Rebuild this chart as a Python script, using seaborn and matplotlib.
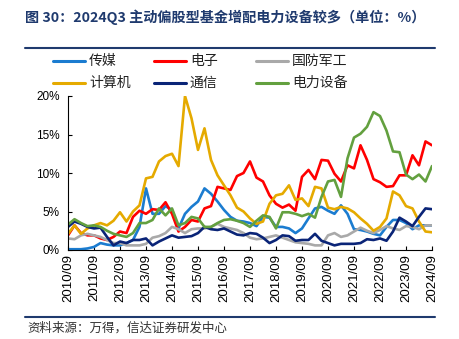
import numpy as np
import pandas as pd
import matplotlib
matplotlib.use("Agg")
import matplotlib.pyplot as plt
from matplotlib.lines import Line2D
import seaborn as sns

# ---- data (quarterly, 2010Q3 .. 2024Q3), % of holdings ----
quarters = [f"{y}/{m:02d}" for y in range(2010, 2025) for m in (3, 6, 9, 12)]
quarters = quarters[2:2 + 57]

media = [0.1, 0.1, 0.1, 0.2, 0.4, 0.9, 0.7, 0.6, 0.6, 0.9, 1.3, 3.0, 8.0, 4.7, 4.7, 5.7,
         5.2, 2.8, 4.7, 5.6, 6.3, 8.0, 7.3, 6.3, 5.2, 4.3, 3.8, 3.7, 3.5, 3.1, 4.3, 4.2,
         3.0, 3.0, 2.8, 2.2, 2.8, 4.1, 5.4, 5.6, 5.1, 4.7, 5.8, 4.7, 2.7, 2.6, 2.4, 2.1,
         1.9, 3.0, 3.9, 3.9, 3.5, 2.7, 3.2, 3.2, 3.2]
electronics = [1.9, 3.2, 2.2, 1.9, 1.9, 1.5, 1.3, 1.7, 2.4, 2.2, 4.3, 5.1, 4.7, 5.3, 5.2, 6.2,
               4.7, 2.4, 3.0, 3.9, 3.7, 5.4, 5.7, 8.2, 8.0, 7.8, 9.6, 10.0, 11.5, 9.4, 8.9, 7.1,
               6.0, 5.5, 5.9, 5.1, 9.5, 10.4, 9.2, 11.7, 11.6, 9.9, 8.9, 11.0, 10.6, 13.6, 11.7, 9.2,
               8.8, 8.2, 8.3, 9.7, 9.7, 12.3, 11.0, 14.1, 13.6]
defense = [1.5, 1.4, 1.9, 2.1, 1.9, 1.7, 1.3, 0.9, 0.9, 0.6, 0.6, 0.6, 0.8, 1.6, 1.8, 2.2,
           3.0, 2.7, 2.2, 2.7, 2.8, 2.8, 3.0, 3.4, 3.0, 2.8, 2.6, 2.2, 1.6, 1.4, 1.5, 1.7,
           1.9, 1.6, 1.3, 1.0, 0.9, 0.8, 0.6, 0.6, 1.9, 2.2, 1.7, 1.9, 2.4, 2.9, 2.5, 2.2,
           2.6, 3.1, 2.8, 2.6, 3.1, 3.0, 2.7, 3.2, 3.2]
computer = [2.1, 3.2, 2.1, 2.8, 3.2, 3.5, 3.2, 3.8, 4.9, 3.7, 5.0, 5.8, 9.3, 9.5, 11.5, 12.2,
            12.5, 10.9, 20.0, 17.1, 13.0, 15.8, 11.7, 9.7, 8.4, 7.1, 5.5, 5.0, 4.1, 3.4, 3.7, 6.0,
            7.1, 7.3, 8.4, 6.5, 6.7, 5.7, 8.2, 8.0, 5.5, 5.3, 5.6, 5.4, 4.9, 4.1, 3.4, 2.5,
            3.0, 4.1, 7.6, 7.1, 5.7, 5.4, 3.7, 2.4, 2.3]
telecom = [3.0, 3.7, 3.4, 3.0, 2.8, 2.9, 1.7, 0.6, 1.1, 0.9, 1.3, 1.3, 1.5, 0.6, 1.1, 1.5,
           1.9, 1.6, 1.7, 1.8, 2.2, 3.0, 2.7, 2.6, 2.8, 2.4, 2.0, 1.9, 2.2, 2.1, 1.6, 0.9,
           1.3, 1.9, 1.8, 1.2, 1.3, 1.3, 2.1, 1.2, 0.9, 0.6, 0.8, 0.8, 0.8, 0.9, 1.4, 1.3,
           1.5, 1.2, 2.4, 4.2, 3.7, 3.1, 4.3, 5.4, 5.3]
power_eq = [3.3, 4.0, 3.5, 3.1, 3.2, 3.0, 2.5, 2.1, 1.9, 1.7, 2.2, 3.5, 3.5, 3.9, 5.4, 4.5,
            5.4, 3.2, 3.5, 4.3, 4.1, 3.0, 3.0, 3.5, 3.9, 4.0, 3.8, 3.5, 3.0, 3.8, 4.5, 4.3,
            2.8, 4.9, 4.9, 4.7, 4.4, 4.7, 4.2, 6.9, 8.9, 9.1, 6.9, 11.9, 14.6, 15.1, 16.0, 17.9,
            17.4, 15.5, 12.8, 12.7, 9.8, 9.2, 9.8, 8.9, 10.9]

series_names = ["传媒", "电子", "国防军工", "计算机", "通信", "电力设备"]
series_vals = [media, electronics, defense, computer, telecom, power_eq]
colors = ["#1B7CD0", "#FF0000", "#A9A9A9", "#E5AA00", "#0A2477", "#63A03F"]
tick_years = [f"{y}/09" for y in range(2010, 2025)]

rows = []
for name, vals in zip(series_names, series_vals):
    for i, v in enumerate(vals):
        rows.append({"idx": i, "quarter": quarters[i], "value": v, "series": name})
df = pd.DataFrame(rows)

# ---- style ----
sns.set_style("ticks")
plt.rcParams["font.family"] = ["Liberation Sans", "Noto Sans CJK SC", "DejaVu Sans"]

W, H = 459, 339
fig = plt.figure(figsize=(W / 100, H / 100), dpi=100)
ax = fig.add_axes([68 / W, 1 - 250 / H, (432 - 68) / W, (250 - 96) / H])

sns.lineplot(data=df, x="idx", y="value", hue="series", hue_order=series_names,
             palette=colors, linewidth=1.9, legend=False, ax=ax)

ax.set_xlim(0, len(quarters) - 1)
ax.set_ylim(0, 20)
ax.set_xlabel("")
ax.set_ylabel("")
ax.set_xticks([quarters.index(t) for t in tick_years])
ax.set_xticklabels(tick_years, rotation=90, fontsize=9.5)
ax.set_yticks([0, 5, 10, 15, 20])
ax.set_yticklabels([f"{v}%" for v in [0, 5, 10, 15, 20]], fontsize=8.5)
ax.tick_params(axis="both", direction="in", length=3, width=0.8, colors="black", pad=3)
ax.tick_params(axis="y", pad=6)
for s in ["top", "right"]:
    ax.spines[s].set_visible(False)
for s in ["left", "bottom"]:
    ax.spines[s].set_color("black")
    ax.spines[s].set_linewidth(0.8)

# ---- title ----
navy = "#1F3A6E"
fig.text(25 / W, 1 - 17 / H, "图 30：2024Q3 主动偏股型基金增配电力设备较多（单位：%）",
         fontsize=10.2, fontweight="bold", color=navy, va="center", ha="left",
         family=["Noto Sans CJK SC", "DejaVu Sans"])
fig.add_artist(Line2D([25 / W, 435 / W], [1 - 47.5 / H, 1 - 47.5 / H], color=navy, lw=1.5))
fig.add_artist(Line2D([25 / W, 435 / W], [1 - 316.5 / H, 1 - 316.5 / H], color=navy, lw=1.5))

# ---- legend (manual) ----
leg_pos = [(53, 85, 89, 60.5), (154, 186, 190, 60.5), (256, 288, 292, 60.5),
           (53, 85, 89, 82.5), (154, 186, 190, 82.5), (256, 288, 292, 82.5)]
for (x0, x1, xt, y), name, c in zip(leg_pos, series_names, colors):
    fig.add_artist(Line2D([x0 / W, x1 / W], [1 - y / H, 1 - y / H], color=c, lw=2.2))
    fig.text(xt / W, 1 - y / H, name, fontsize=10, va="center", ha="left",
             family=["Noto Sans CJK SC", "DejaVu Sans"], color="#222222")

# ---- source ----
fig.text(27 / W, 1 - 328 / H, "资料来源：万得，信达证券研发中心", fontsize=9, style="italic",
         va="center", ha="left", color="#333333", family=["Noto Sans CJK SC", "DejaVu Sans"])

fig.savefig("out.png", dpi=100, facecolor="white")
